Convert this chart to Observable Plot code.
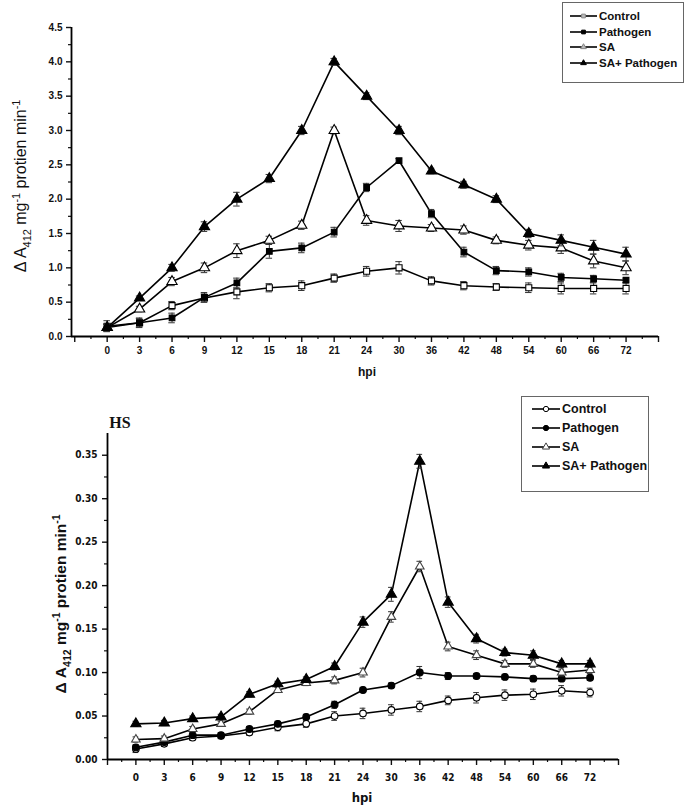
<!DOCTYPE html>
<html><head><meta charset="utf-8">
<script src="https://cdn.jsdelivr.net/npm/d3@7"></script>
<script src="https://cdn.jsdelivr.net/npm/@observablehq/plot@0.6"></script>
<style>
body{margin:0;background:#fff;font-family:"Liberation Sans",Arial,sans-serif;}
#wrap{position:relative;width:686px;height:809px;overflow:hidden;background:#fff;}
.panel{position:absolute;left:0;}
.legend{position:absolute;border:1px solid #666;background:#fff;font-weight:bold;color:#111;box-sizing:border-box;}
.legend .row{position:absolute;display:flex;align-items:center;white-space:nowrap;}
</style></head><body><div id="wrap"></div>
<script>
// ---------- data ----------
const hours = ["0","3","6","9","12","15","18","21","24","30","36","42","48","54","60","66","72"];
const seriesNames = ["Control","Pathogen","SA","SA+ Pathogen"];

// top panel
const topControl  = [0.15,0.20,0.45,0.56,0.65,0.71,0.74,0.85,0.95,1.00,0.81,0.74,0.72,0.71,0.70,0.70,0.70];
const topPathogen = [0.13,0.20,0.27,0.57,0.78,1.24,1.29,1.52,2.17,2.56,1.79,1.23,0.96,0.94,0.86,0.84,0.82];
const topSA       = [0.13,0.40,0.80,1.00,1.25,1.40,1.62,3.00,1.69,1.61,1.58,1.55,1.40,1.33,1.29,1.10,1.00];
const topSAP      = [0.13,0.56,1.00,1.60,2.00,2.30,3.00,4.00,3.50,3.00,2.41,2.21,2.00,1.50,1.40,1.30,1.20];
const topControlErr  = [0.08,0.06,0.06,0.06,0.10,0.06,0.07,0.06,0.07,0.09,0.06,0.06,0.05,0.07,0.08,0.08,0.08];
const topPathogenErr = [0.05,0.07,0.07,0.07,0.07,0.10,0.07,0.07,0.06,0.03,0.06,0.07,0.06,0.06,0.06,0.05,0.03];
const topSAErr       = [0.05,0.04,0.06,0.07,0.10,0.06,0.06,0.05,0.07,0.08,0.05,0.06,0.05,0.07,0.08,0.10,0.10];
const topSAPErr      = [0.05,0.03,0.05,0.07,0.10,0.06,0.06,0.05,0.05,0.06,0.04,0.05,0.05,0.06,0.08,0.10,0.10];
const topYTicks = [0,0.5,1.0,1.5,2.0,2.5,3.0,3.5,4.0,4.5];

// bottom panel (HS)
const hsControl  = [0.012,0.018,0.025,0.027,0.031,0.037,0.041,0.050,0.053,0.057,0.061,0.068,0.071,0.074,0.075,0.079,0.077];
const hsPathogen = [0.014,0.020,0.028,0.028,0.035,0.041,0.049,0.063,0.080,0.085,0.100,0.096,0.096,0.095,0.093,0.093,0.094];
const hsSA       = [0.023,0.024,0.035,0.041,0.055,0.080,0.088,0.091,0.100,0.164,0.222,0.130,0.120,0.110,0.110,0.100,0.103];
const hsSAP      = [0.041,0.042,0.047,0.049,0.075,0.087,0.092,0.107,0.158,0.190,0.343,0.181,0.139,0.123,0.120,0.110,0.110];
const hsControlErr  = [0.004,0.003,0.003,0.003,0.003,0.004,0.004,0.005,0.006,0.006,0.006,0.005,0.006,0.006,0.006,0.006,0.005];
const hsPathogenErr = [0.003,0.003,0.003,0.003,0.003,0.003,0.003,0.004,0.003,0.003,0.007,0.004,0.003,0.003,0.003,0.003,0.003];
const hsSAErr       = [0.003,0.003,0.003,0.003,0.003,0.003,0.003,0.004,0.005,0.006,0.006,0.005,0.005,0.004,0.004,0.004,0.004];
const hsSAPErr      = [0.003,0.003,0.003,0.003,0.003,0.003,0.003,0.004,0.006,0.008,0.008,0.006,0.005,0.004,0.005,0.004,0.004];
const hsYTicks = [0,0.05,0.10,0.15,0.20,0.25,0.30,0.35];

// ---------- drawing ----------
const wrap = document.getElementById("wrap");

function addYLabel(svg, x, y, size, weight) {
  const t = d3.select(svg).append("text")
    .attr("transform", `translate(${x},${y}) rotate(-90)`)
    .attr("text-anchor", "middle")
    .style("font-size", size + "px").style("font-weight", weight)
    .style("font-family", "'Liberation Sans', Arial, sans-serif").attr("fill", "#111");
  const s = size * 0.68;
  t.append("tspan").text("\u0394 A");
  t.append("tspan").attr("dy", size * 0.3).style("font-size", s + "px").text("412");
  t.append("tspan").attr("dy", -size * 0.3).text(" mg");
  t.append("tspan").attr("dy", -size * 0.4).style("font-size", s + "px").text("-1");
  t.append("tspan").attr("dy", size * 0.4).text(" protien min");
  t.append("tspan").attr("dy", -size * 0.4).style("font-size", s + "px").text("-1");
}

function panel(cfg) {
  const marks = [];
  const xMajor = d3.range(-1, hours.length + 1);
  const xMinor = d3.range(-0.5, hours.length, 1);
  marks.push(Plot.axisY(cfg.yMajor, {tickSize: 5, tickPadding: cfg.yPad, tickFormat: d3.format(cfg.yFmt), strokeWidth: 1.4, label: null}));
  marks.push(Plot.axisY(cfg.yMinor, {tickSize: 3, tickFormat: () => "", strokeWidth: 1.2, label: null}));
  marks.push(Plot.axisX(xMajor, {tickSize: 6, tickPadding: cfg.xPad, tickFormat: i => hours[i] ?? "", strokeWidth: 1.4, label: null}));
  marks.push(Plot.axisX(xMinor, {tickSize: 3, tickFormat: () => "", strokeWidth: 1.2, label: null}));
  marks.push(Plot.ruleY([cfg.yDomain[0]], {stroke: "#000", strokeWidth: 1.8}));
  marks.push(Plot.ruleX([cfg.xDomain[0]], {stroke: "#000", strokeWidth: 1.8}));
  cfg.series.forEach(s => {
    const rows = s.values.map((v, i) => ({i, v, e: s.err[i]}));
    marks.push(Plot.line(rows, {x: "i", y: "v", stroke: "#000", strokeWidth: 1.6}));
    marks.push(Plot.ruleX(rows, {x: "i", y1: d => d.v - d.e, y2: d => d.v + d.e, stroke: "#333", strokeWidth: 1}));
    marks.push(Plot.ruleY(rows, {y: d => d.v + d.e, x1: d => d.i - 0.1, x2: d => d.i + 0.1, stroke: "#333", strokeWidth: 1}));
    marks.push(Plot.ruleY(rows, {y: d => d.v - d.e, x1: d => d.i - 0.1, x2: d => d.i + 0.1, stroke: "#333", strokeWidth: 1}));
    marks.push(Plot.dot(rows, {x: "i", y: "v", symbol: s.symbol, r: s.r, fill: s.fill, stroke: s.stroke, strokeWidth: 1.1}));
  });
  const svg = Plot.plot({
    width: 686, height: cfg.height,
    marginLeft: cfg.ml, marginRight: cfg.mr, marginTop: cfg.mt, marginBottom: cfg.mb,
    x: {type: "linear", domain: cfg.xDomain, label: null},
    y: {type: "linear", domain: cfg.yDomain, label: null},
    style: {fontFamily: cfg.font, fontSize: cfg.tickFont + "px", fontWeight: "bold", color: "#111", background: "transparent", overflow: "visible"},
    marks
  });
  svg.classList.add("panel");
  svg.style.top = cfg.top + "px";
  wrap.appendChild(svg);
  return svg;
}

function legend(cfg) {
  const box = document.createElement("div");
  box.className = "legend";
  Object.assign(box.style, {left: cfg.left + "px", top: cfg.top + "px", width: cfg.w + "px", height: cfg.h + "px", fontSize: cfg.fs + "px"});
  cfg.items.forEach((it, k) => {
    const row = document.createElement("div");
    row.className = "row";
    row.style.left = cfg.padL + "px";
    row.style.top = (cfg.row0 + k * cfg.dy - 8) + "px";
    row.style.height = "16px";
    const sw = d3.create("svg").attr("width", cfg.sw).attr("height", 12).style("margin-right", "2px");
    sw.append("line").attr("x1", 0).attr("x2", cfg.sw).attr("y1", 6).attr("y2", 6).attr("stroke", "#000").attr("stroke-width", 1.6);
    const sym = {square: d3.symbolSquare, triangle: d3.symbolTriangle, circle: d3.symbolCircle}[it.symbol];
    sw.append("path").attr("d", d3.symbol(sym, cfg.symSize)()).attr("transform", `translate(${cfg.sw / 2},6)`)
      .attr("fill", it.fill).attr("stroke", it.stroke).attr("stroke-width", 1);
    row.appendChild(sw.node());
    const sp = document.createElement("span");
    sp.textContent = it.name;
    row.appendChild(sp);
    box.appendChild(row);
  });
  wrap.appendChild(box);
}

// top panel
const topSeries = [
  {name: seriesNames[0], values: topControl,  err: topControlErr,  symbol: "square",   fill: "#fff", stroke: "#000", r: 3.4},
  {name: seriesNames[1], values: topPathogen, err: topPathogenErr, symbol: "square",   fill: "#000", stroke: "#000", r: 3.2},
  {name: seriesNames[2], values: topSA,       err: topSAErr,       symbol: "triangle", fill: "#fff", stroke: "#000", r: 3.8},
  {name: seriesNames[3], values: topSAP,      err: topSAPErr,      symbol: "triangle", fill: "#000", stroke: "#000", r: 3.8}
];
const svgTop = panel({
  top: 0, height: 390, ml: 71, mr: 28, mt: 27, mb: 54,
  xDomain: [-1.1, 17], yDomain: [0, 4.5],
  yMajor: topYTicks, yMinor: d3.range(0.25, 4.5, 0.5), yFmt: ".1f", yPad: 4, xPad: 4,
  font: "'Liberation Sans', Arial, sans-serif", tickFont: 10,
  series: topSeries
});
addYLabel(svgTop, 26, 186, 16, "normal");
d3.select(svgTop).append("text").attr("x", 367).attr("y", 376).attr("text-anchor", "middle")
  .style("font-size", "12px").style("font-weight", "bold").attr("fill", "#111").text("hpi");

legend({left: 562, top: 2, w: 122, h: 81, fs: 11.5, padL: 7, row0: 13, dy: 15.5, sw: 27, symSize: 14,
  items: topSeries.map(s => ({name: s.name, symbol: s.symbol, fill: s.fill === "#fff" ? "#bbb" : "#000", stroke: s.fill === "#fff" ? "#888" : "#000"}))});

// bottom panel (HS)
const hsSeries = [
  {name: seriesNames[0], values: hsControl,  err: hsControlErr,  symbol: "circle",   fill: "#fff", stroke: "#000", r: 3.3},
  {name: seriesNames[1], values: hsPathogen, err: hsPathogenErr, symbol: "circle",   fill: "#000", stroke: "#000", r: 3.4},
  {name: seriesNames[2], values: hsSA,       err: hsSAErr,       symbol: "triangle", fill: "#fff", stroke: "#444", r: 3.2},
  {name: seriesNames[3], values: hsSAP,      err: hsSAPErr,      symbol: "triangle", fill: "#000", stroke: "#000", r: 3.8}
];
const svgHS = panel({
  top: 390, height: 419, ml: 107, mr: 68, mt: 43, mb: 50,
  xDomain: [-1, 17], yDomain: [0, 0.375],
  yMajor: hsYTicks, yMinor: d3.range(0.025, 0.375, 0.05), yFmt: ".2f", yPad: 5, xPad: 8,
  font: "'Liberation Sans Narrow', 'DejaVu Sans Condensed', 'Liberation Sans', Arial, sans-serif", tickFont: 10,
  series: hsSeries
});
addYLabel(svgHS, 66, 214, 15.5, "bold");
d3.select(svgHS).append("text").attr("x", 120).attr("y", 38)
  .style("font-family", "'Liberation Serif', 'Times New Roman', serif").style("font-size", "16px").style("font-weight", "bold")
  .attr("fill", "#111").text("HS");
d3.select(svgHS).append("text").attr("x", 362).attr("y", 412).attr("text-anchor", "middle")
  .style("font-size", "13px").style("font-weight", "bold").attr("fill", "#111").text("hpi");

legend({left: 521, top: 396, w: 128, h: 96, fs: 12.5, padL: 10, row0: 12, dy: 19, sw: 28, symSize: 22,
  items: hsSeries.map(s => ({name: s.name, symbol: s.symbol, fill: s.fill, stroke: s.stroke}))});
</script>
</body></html>
